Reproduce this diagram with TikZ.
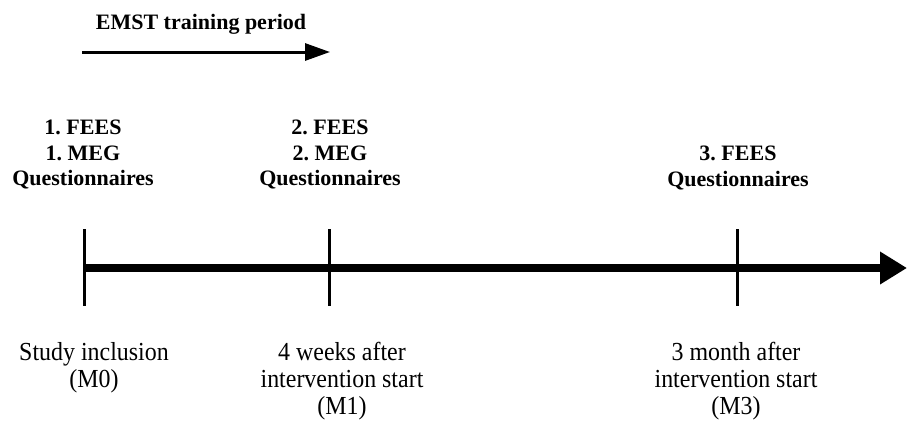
\documentclass[tikz,border=0pt]{standalone}
\usepackage{fontspec}
\setmainfont{Liberation Serif}
\newfontfamily\condfont[FakeStretch=0.92]{Liberation Serif}
\usetikzlibrary{arrows.meta}
\tikzset{
  toplab/.style={align=center,font=\fontsize{22}{25.5}\selectfont\bfseries,inner sep=0pt,anchor=north},
  botlab/.style={align=center,font=\condfont\fontsize{26}{27}\selectfont,inner sep=0pt,anchor=north},
  tick/.style={line width=3pt},
}
\begin{document}
\begin{tikzpicture}[x=1pt,y=-1pt]
\useasboundingbox (0,0) rectangle (907,421);
% training period arrow
\node[font=\fontsize{22}{25}\selectfont\bfseries,inner sep=0pt] (emst) at (201,24) {EMST training period};
\coordinate (ts) at (82,52);
\coordinate (te) at (330,52);
\draw[line width=3pt,-{Triangle[length=25pt,width=17pt]}] (ts) -- (te);
% axis
\coordinate (as) at (83,268);
\coordinate (ae) at (907,268);
\draw[line width=8pt,-{Triangle[length=27pt,width=31pt]}] (as) -- (ae);
% ticks
\coordinate (t0a) at (84,229); \coordinate (t0b) at (84,306);
\coordinate (t1a) at (329,229); \coordinate (t1b) at (329,306);
\coordinate (t3a) at (737,229); \coordinate (t3b) at (737,306);
\draw[tick] (t0a) -- (t0b);
\draw[tick] (t1a) -- (t1b);
\draw[tick] (t3a) -- (t3b);
% top labels
\node[toplab] (l0) at (83,120) {1.~FEES\\1.~MEG\\Questionnaires};
\node[toplab] (l1) at (330,120) {2.~FEES\\2.~MEG\\Questionnaires};
\node[toplab] (l3) at (738,146) {3.~FEES\\Questionnaires};
% bottom labels
\node[botlab] (b0) at (94,342) {Study inclusion\\(M0)};
\node[botlab] (b1) at (342,342) {4 weeks after\\intervention start\\(M1)};
\node[botlab] (b3) at (736,342) {3 month after\\intervention start\\(M3)};
\end{tikzpicture}
\end{document}
